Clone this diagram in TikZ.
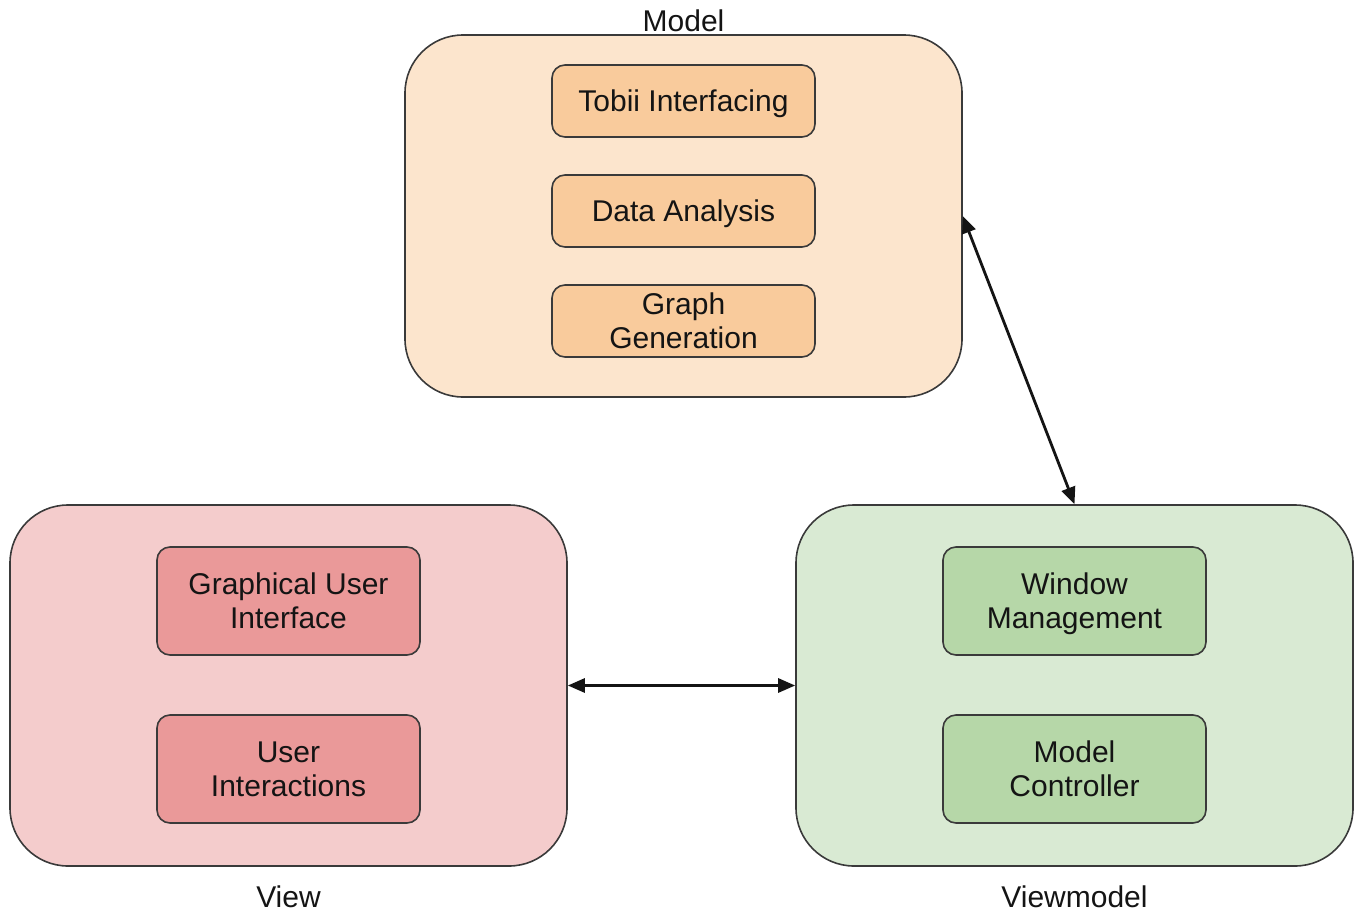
\documentclass[tikz,border=0pt]{standalone}
\usepackage{fontspec}
\setmainfont{Liberation Sans}
\usetikzlibrary{arrows.meta}
\definecolor{edgegray}{HTML}{3A3A3A}
\definecolor{modelbg}{HTML}{FCE5CD}
\definecolor{modelfg}{HTML}{F9CB9C}
\definecolor{viewbg}{HTML}{F4CCCC}
\definecolor{viewfg}{HTML}{EA9999}
\definecolor{vmbg}{HTML}{D9EAD3}
\definecolor{vmfg}{HTML}{B6D7A8}
\tikzset{
  layer/.style={draw=edgegray, line width=1.6pt, rounded corners=58pt,
    minimum width=557pt, inner sep=0pt},
  part/.style={draw=edgegray, line width=1.6pt, rounded corners=13pt,
    minimum width=263pt, inner sep=0pt, align=center, text depth=0pt,
    font=\fontsize{30}{34}\selectfont, text=black!92},
  caption/.style={font=\fontsize{30}{34}\selectfont, text=black!92,
    inner sep=0pt, text depth=0pt},
  link/.style={line width=2.8pt, black!92,
    {Triangle[length=17pt,width=14pt]}-{Triangle[length=17pt,width=14pt]}}
}
\begin{document}
\begin{tikzpicture}[x=1pt,y=-1pt]
\useasboundingbox (0,0) rectangle (1355,913);

% Model layer
\node[layer, fill=modelbg, minimum height=362pt] (model) at (683.5,216) {};
\node[part, fill=modelfg, minimum height=72pt] (tobii) at (683.5,101) {Tobii Interfacing};
\node[part, fill=modelfg, minimum height=72pt] (analysis) at (683.5,211) {Data Analysis};
\node[part, fill=modelfg, minimum height=72pt] (graph) at (683.5,321) {Graph\\Generation};
\node[caption] (modellabel) at (683.5,21) {Model};

% View layer
\node[layer, fill=viewbg, minimum height=361pt] (view) at (288.5,685.5) {};
\node[part, fill=viewfg, minimum height=108pt] (gui) at (288.5,601) {Graphical User\\Interface};
\node[part, fill=viewfg, minimum height=108pt] (interact) at (288.5,769) {User\\Interactions};
\node[caption] (viewlabel) at (288.5,897) {View};

% Viewmodel layer
\node[layer, fill=vmbg, minimum height=361pt] (vm) at (1074.5,685.5) {};
\node[part, fill=vmfg, minimum height=108pt] (window) at (1074.5,601) {Window\\Management};
\node[part, fill=vmfg, minimum height=108pt] (controller) at (1074.5,769) {Model\\Controller};
\node[caption] (vmlabel) at (1074.5,897) {Viewmodel};

% Connections between layers
\draw[link] (model.east) -- (vm.north);
\draw[link] (view.east) -- (vm.west);
\end{tikzpicture}
\end{document}
